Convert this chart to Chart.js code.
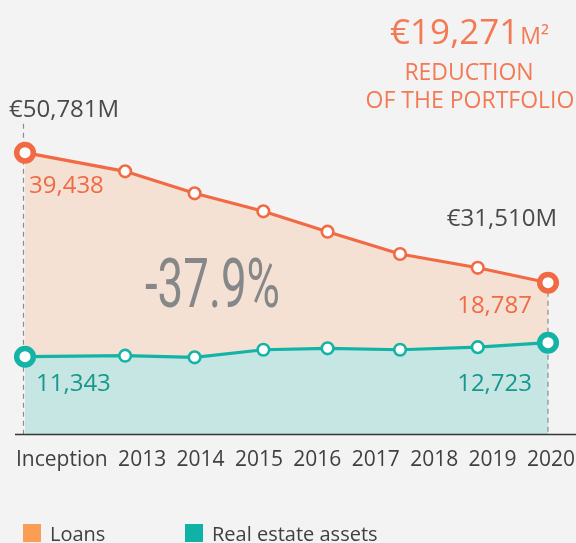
<!DOCTYPE html>
<html>
<head>
<meta charset="utf-8">
<script src="https://cdn.jsdelivr.net/npm/chart.js@4.4.1/dist/chart.umd.min.js"></script>
<style>
  html, body { margin: 0; padding: 0; background: #f3f3f3; }
  #wrap { width: 576px; height: 543px; position: relative; }
</style>
</head>
<body>
<div id="wrap"><canvas id="c" width="576" height="543"></canvas></div>
<script>
// ---- data ----
const tickLabels = ['Inception', '2013', '2014', '2015', '2016', '2017', '2018', '2019', '2020'];
const pointPos = [0, 1.34, 2.27, 3.19, 4.05, 5.02, 6.06, 7];           // horizontal placement of the 8 points
const loans = [39438, 36580, 33480, 30060, 26900, 23730, 21440, 18787];
const realEstate = [11343, 11440, 11280, 12030, 12170, 12030, 12280, 12723];
const total = loans.map((v, i) => v + realEstate[i]);
const seriesNames = ['Loans', 'Real estate assets'];

// ---- styling ----
const FONT = '"Open Sans", "Noto Sans", sans-serif';
const C = {
  orangeLine: '#f26a43', orangeFill: '#f4e1d3', orangeText: '#f06b45', titleOrange: '#f37a54',
  tealLine: '#13b3a6', tealFill: '#c5e6e2', tealText: '#16988e',
  dark: '#4a4a4a', tick: '#404040', dash: '#8c8c8c', axis: '#363636', pct: '#858788',
  legendOrange: '#f99e54', legendTeal: '#10b2a8'
};
const fmt = v => v.toLocaleString('en-US');
const last = total.length - 1;
const isEnd = ctx => ctx.dataIndex === 0 || ctx.dataIndex === last;

function text(ctx, s, x, y, size, color, align, weight) {
  ctx.save();
  ctx.font = (weight || '400') + ' ' + size + 'px ' + FONT;
  ctx.fillStyle = color;
  ctx.textAlign = align || 'left';
  ctx.textBaseline = 'alphabetic';
  ctx.fillText(s, x, y);
  ctx.restore();
}

const decor = {
  id: 'decor',
  beforeDatasetsDraw(chart) {
    const ctx = chart.ctx, a = chart.chartArea;
    const o = chart.getDatasetMeta(0).data;
    ctx.save();
    ctx.strokeStyle = C.dash;
    ctx.lineWidth = 1.2;
    ctx.setLineDash([5, 4]);
    ctx.beginPath();
    ctx.moveTo(o[0].x - 1.5, o[0].y - 29);
    ctx.lineTo(o[0].x - 1.5, a.bottom);
    ctx.moveTo(o[last].x, o[last].y);
    ctx.lineTo(o[last].x, a.bottom);
    ctx.stroke();
    ctx.setLineDash([]);
    ctx.strokeStyle = C.axis;
    ctx.lineWidth = 1.5;
    ctx.beginPath();
    ctx.moveTo(15, a.bottom + 0.5);
    ctx.lineTo(576, a.bottom + 0.5);
    ctx.stroke();
    ctx.restore();
  },
  afterDatasetsDraw(chart) {
    const ctx = chart.ctx, a = chart.chartArea;
    const o = chart.getDatasetMeta(0).data;
    const t = chart.getDatasetMeta(1).data;

    // point annotations
    text(ctx, '€' + fmt(total[0]) + 'M', o[0].x - 16, o[0].y - 35.5, 24, C.dark, 'left');
    text(ctx, fmt(loans[0]), o[0].x + 4, o[0].y + 40.5, 24, C.orangeText, 'left');
    text(ctx, fmt(realEstate[0]), t[0].x + 11, t[0].y + 34.5, 24, C.tealText, 'left');
    text(ctx, '€' + fmt(total[last]) + 'M', o[last].x + 9, o[last].y - 57, 24, C.dark, 'right');
    text(ctx, fmt(loans[last]), o[last].x - 16, o[last].y + 30.5, 24, C.orangeText, 'right');
    text(ctx, fmt(realEstate[last]), t[last].x - 16, t[last].y + 48.5, 24, C.tealText, 'right');

    // percentage change (condensed)
    const pct = '-' + ((total[0] - total[last]) / total[0] * 100).toFixed(1) + '%';
    ctx.save();
    ctx.font = '400 68px Roboto, ' + FONT;
    ctx.fillStyle = C.pct;
    const w = ctx.measureText(pct).width;
    const sx = 135 / w;
    ctx.translate(a.left + 120, 306.5);
    ctx.scale(sx, 1);
    ctx.textBaseline = 'alphabetic';
    ctx.fillText(pct, 0, 0);
    ctx.restore();

    // headline at top right
    const red = '€' + fmt(total[0] - total[last]);
    ctx.save();
    ctx.font = '400 35px ' + FONT;
    const w1 = ctx.measureText(red).width;
    ctx.font = '400 23px ' + FONT;
    const w2 = ctx.measureText('M²').width;
    const cx = 469, x0 = cx - (w1 + w2) / 2;
    ctx.restore();
    text(ctx, red, x0, 43.5, 35, C.titleOrange, 'left');
    text(ctx, 'M²', x0 + w1 + 1, 43.5, 23, C.titleOrange, 'left');
    text(ctx, 'REDUCTION', 469, 79.5, 23, C.titleOrange, 'center');
    text(ctx, 'OF THE PORTFOLIO', 470, 107.5, 23, C.titleOrange, 'center');

    // category row along the axis
    ctx.save();
    ctx.font = '400 21px ' + FONT;
    const widths = tickLabels.map(s => ctx.measureText(s).width);
    const sum = widths.reduce((p, q) => p + q, 0);
    const gap = (575 - 16 - sum) / (tickLabels.length - 1);
    ctx.fillStyle = C.tick;
    let x = 16;
    tickLabels.forEach((s, i) => { ctx.fillText(s, x, 466); x += widths[i] + gap; });
    ctx.restore();

    // legend
    ctx.save();
    ctx.fillStyle = C.legendOrange;
    ctx.fillRect(23, 524, 18, 18);
    ctx.fillStyle = C.legendTeal;
    ctx.fillRect(185, 524, 18, 18);
    ctx.restore();
    text(ctx, seriesNames[0], 50, 541, 20, C.tick, 'left');
    text(ctx, seriesNames[1], 212, 541, 20, C.tick, 'left');
  }
};

new Chart(document.getElementById('c'), {
  type: 'line',
  data: {
    datasets: [
      {
        label: seriesNames[0],
        data: pointPos.map((x, i) => ({ x, y: total[i] })),
        yAxisID: 'y',
        order: 1,
        borderColor: C.orangeLine,
        backgroundColor: C.orangeFill,
        borderWidth: 3.2,
        fill: 'start',
        tension: 0,
        clip: false,
        pointBackgroundColor: '#ffffff',
        pointBorderColor: C.orangeLine,
        pointRadius: ctx => isEnd(ctx) ? 8.3 : 5.8,
        pointBorderWidth: ctx => isEnd(ctx) ? 5.5 : 2.6
      },
      {
        label: seriesNames[1],
        data: pointPos.map((x, i) => ({ x, y: realEstate[i] })),
        yAxisID: 'y2',
        order: 0,
        borderColor: C.tealLine,
        backgroundColor: C.tealFill,
        borderWidth: 3.2,
        fill: 'start',
        tension: 0,
        clip: false,
        pointBackgroundColor: '#ffffff',
        pointBorderColor: C.tealLine,
        pointRadius: ctx => isEnd(ctx) ? 8.3 : 5.8,
        pointBorderWidth: ctx => isEnd(ctx) ? 5.5 : 2.6
      }
    ]
  },
  options: {
    responsive: false,
    animation: false,
    devicePixelRatio: 1,
    layout: { padding: { left: 25, right: 28, top: 100, bottom: 109 } },
    scales: {
      x: { type: 'linear', min: 0, max: 7, display: false },
      y: { type: 'linear', min: 9081, max: 58592, display: false },
      y2: { type: 'linear', min: 3723, max: 36646, display: false }
    },
    plugins: {
      legend: { display: false },
      tooltip: { enabled: false },
      filler: { drawTime: 'beforeDatasetsDraw' }
    }
  },
  plugins: [decor]
});
</script>
</body>
</html>
